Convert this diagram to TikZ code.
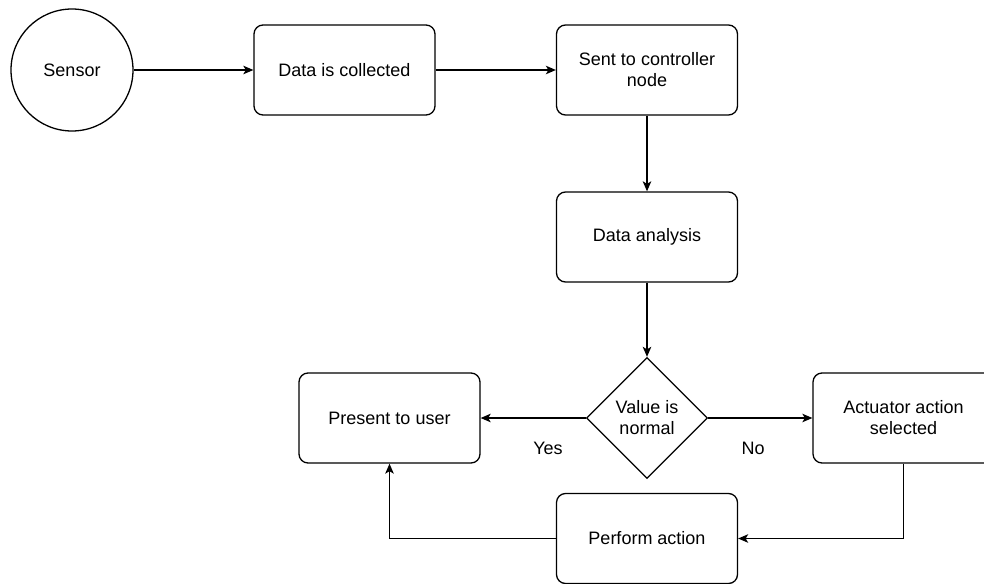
\documentclass[tikz,border=0pt]{standalone}
\usepackage{fontspec}
\setmainfont{Liberation Sans}
\usetikzlibrary{shapes.geometric,arrows.meta}
\begin{document}
\begin{tikzpicture}[x=1pt,y=-1pt,
  every node/.style={font=\fontsize{18}{21}\selectfont},
  box/.style={draw, line width=1.3pt, rounded corners=9pt, minimum width=181pt, minimum height=90pt, align=center, inner sep=0pt},
  circ/.style={draw, line width=1.3pt, circle, minimum size=122pt, inner sep=0pt},
  dec/.style={draw, line width=1.3pt, diamond, minimum width=121pt, minimum height=121pt, inner sep=0pt, align=center},
  conn/.style={line width=1.3pt, -{Stealth[length=10pt,width=8.5pt,inset=2.5pt]}},
  lab/.style={inner sep=0pt}]
\useasboundingbox (0,0) rectangle (984,583);
\clip (0,0) rectangle (984,583);
\node[circ] (sensor) at (72,70) {Sensor};
\node[box] (collect) at (344.5,70) {Data is collected};
\node[box] (sent) at (647,70) {Sent to controller\\node};
\node[box] (analysis) at (647,237) {Data analysis};
\node[dec] (decision) at (647,418) {Value is\\normal};
\node[box] (present) at (389.5,418) {Present to user};
\node[box] (actuator) at (903.5,418) {Actuator action\\selected};
\node[box] (perform) at (647,538.5) {Perform action};
\node[lab] (yes) at (548,448) {Yes};
\node[lab] (no) at (753,448) {No};
\draw[conn] (sensor) -- (collect);
\draw[conn] (collect) -- (sent);
\draw[conn] (sent) -- (analysis);
\draw[conn] (analysis) -- (decision);
\draw[conn] (decision) -- (present);
\draw[conn] (decision) -- (actuator);
\draw[conn] (actuator.south) |- (perform.east);
\draw[conn] (perform.west) -| (present.south);
\end{tikzpicture}
\end{document}
